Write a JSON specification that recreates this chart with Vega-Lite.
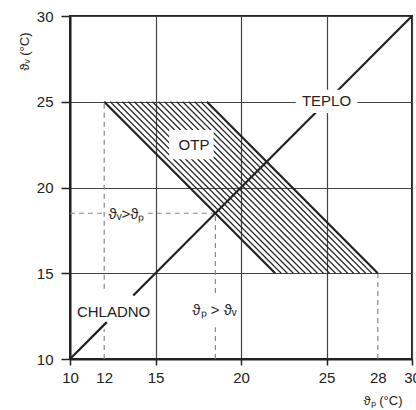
{
  "$schema": "https://vega.github.io/schema/vega-lite/v6.json",
  "width": 342,
  "height": 343,
  "autosize": {"type": "none"},
  "padding": {"left": 70, "top": 16, "right": 4, "bottom": 51},
  "background": "white",
  "config": {
    "view": {"stroke": "#222", "strokeWidth": 2},
    "font": "Liberation Sans"
  },
  "datasets": {
    "dashed": [
      {"x": 12, "y": 10, "x2": 12, "y2": 11.75},
      {"x": 12, "y": 14.1, "x2": 12, "y2": 25},
      {"x": 28, "y": 10, "x2": 28, "y2": 15},
      {"x": 10, "y": 18.5, "x2": 12.05, "y2": 18.5},
      {"x": 14.55, "y": 18.5, "x2": 18.5, "y2": 18.5},
      {"x": 18.5, "y": 10, "x2": 18.5, "y2": 11.85},
      {"x": 18.5, "y": 13.85, "x2": 18.5, "y2": 18.5}
    ],
    "hatch": [
      {"x": 12.35, "y": 25, "x2": 22.35, "y2": 15},
      {"x": 12.71, "y": 25, "x2": 22.71, "y2": 15},
      {"x": 13.06, "y": 25, "x2": 23.06, "y2": 15},
      {"x": 13.41, "y": 25, "x2": 23.41, "y2": 15},
      {"x": 13.76, "y": 25, "x2": 23.76, "y2": 15},
      {"x": 14.12, "y": 25, "x2": 24.12, "y2": 15},
      {"x": 14.47, "y": 25, "x2": 24.47, "y2": 15},
      {"x": 14.82, "y": 25, "x2": 24.82, "y2": 15},
      {"x": 15.18, "y": 25, "x2": 25.18, "y2": 15},
      {"x": 15.53, "y": 25, "x2": 25.53, "y2": 15},
      {"x": 15.88, "y": 25, "x2": 25.88, "y2": 15},
      {"x": 16.24, "y": 25, "x2": 26.24, "y2": 15},
      {"x": 16.59, "y": 25, "x2": 26.59, "y2": 15},
      {"x": 16.94, "y": 25, "x2": 26.94, "y2": 15},
      {"x": 17.29, "y": 25, "x2": 27.29, "y2": 15},
      {"x": 17.65, "y": 25, "x2": 27.65, "y2": 15}
    ],
    "edges": [
      {"x": 12, "y": 25, "x2": 22, "y2": 15},
      {"x": 18, "y": 25, "x2": 28, "y2": 15},
      {"x": 10, "y": 10, "x2": 12.15, "y2": 12.15},
      {"x": 13.7, "y": 13.7, "x2": 30, "y2": 30}
    ],
    "masks": [
      {"x": 23.2, "y": 24.35, "x2": 26.8, "y2": 25.7},
      {"x": 15.8, "y": 21.65, "x2": 18.4, "y2": 23.35}
    ],
    "labels": [
      {"x": 25, "y": 25.05, "text": "TEPLO"},
      {"x": 17.25, "y": 22.5, "text": "OTP"},
      {"x": 12.55, "y": 12.75, "text": "CHLADNO"},
      {"x": 13.3, "y": 18.45, "text": "ϑᵥ>ϑₚ"},
      {"x": 18.45, "y": 12.85, "text": "ϑₚ > ϑᵥ"}
    ]
  },
  "encoding": {
    "x": {
      "field": "x", "type": "quantitative",
      "scale": {"domain": [10, 30], "nice": false, "zero": false},
      "axis": {
        "values": [10, 12, 15, 20, 25, 28, 30],
        "labelFontSize": 15, "labelColor": "#222", "labelPadding": 5,
        "labelFlush": false,
        "tickSize": 6, "tickColor": "#222", "tickWidth": 1.5,
        "tickOpacity": {"condition": {"test": "datum.value === 12 || datum.value === 28", "value": 0}, "value": 1},
        "domainColor": "#222", "domainWidth": 2,
        "grid": true, "gridColor": "#444", "gridWidth": 1.2,
        "gridOpacity": {"condition": {"test": "datum.value === 12 || datum.value === 28", "value": 0}, "value": 1},
        "title": "ϑₚ (°C)", "titleFontSize": 13, "titleFontWeight": "normal", "titleColor": "#222",
        "titleAlign": "right", "titleBaseline": "middle", "titleX": 332, "titleY": 41
      }
    },
    "y": {
      "field": "y", "type": "quantitative",
      "scale": {"domain": [10, 30], "nice": false, "zero": false},
      "axis": {
        "values": [10, 15, 20, 25, 30],
        "labelFontSize": 15, "labelColor": "#222", "labelPadding": 8,
        "labelFlush": false,
        "tickSize": 9, "tickColor": "#222", "tickWidth": 1.5,
        "domainColor": "#222", "domainWidth": 2,
        "grid": true, "gridColor": "#444", "gridWidth": 1.2,
        "title": "ϑᵥ (°C)", "titleFontSize": 13, "titleFontWeight": "normal", "titleColor": "#222",
        "titleAngle": -90, "titleAlign": "right", "titleBaseline": "middle", "titleX": -46, "titleY": 16
      }
    }
  },
  "layer": [
    {
      "data": {"name": "dashed"},
      "mark": {"type": "rule", "color": "#888", "strokeWidth": 1.2, "strokeDash": [5, 4]},
      "encoding": {"x2": {"field": "x2"}, "y2": {"field": "y2"}}
    },
    {
      "data": {"name": "hatch"},
      "mark": {"type": "rule", "color": "#222", "strokeWidth": 1.1},
      "encoding": {"x2": {"field": "x2"}, "y2": {"field": "y2"}}
    },
    {
      "data": {"name": "edges"},
      "mark": {"type": "rule", "color": "#222", "strokeWidth": 2.2},
      "encoding": {"x2": {"field": "x2"}, "y2": {"field": "y2"}}
    },
    {
      "data": {"name": "masks"},
      "mark": {"type": "rect", "color": "white", "opacity": 1},
      "encoding": {"x2": {"field": "x2"}, "y2": {"field": "y2"}}
    },
    {
      "data": {"name": "labels"},
      "mark": {"type": "text", "fontSize": 15, "color": "#222", "font": "Liberation Sans"},
      "encoding": {"text": {"field": "text"}}
    }
  ]
}
